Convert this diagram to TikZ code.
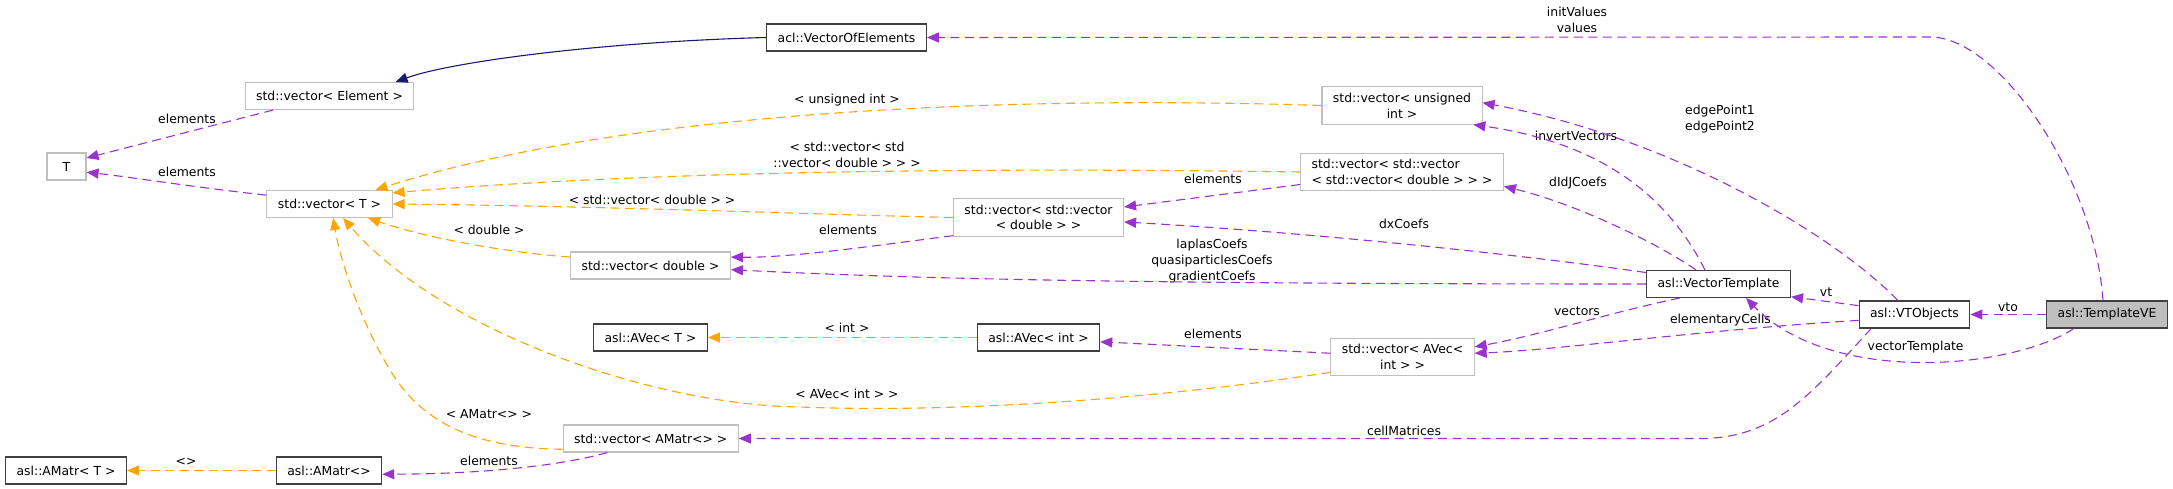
\documentclass[tikz,border=0pt]{standalone}
\usepackage{fontspec}
\setmainfont{DejaVu Sans}
\usetikzlibrary{arrows.meta}
\definecolor{memcol}{HTML}{9A32CD}
\definecolor{tplcol}{HTML}{FFA500}
\definecolor{inhcol}{HTML}{191970}
\definecolor{extcol}{HTML}{BFBFBF}
\definecolor{clscol}{HTML}{404040}
\begin{document}
\begin{tikzpicture}[x=1pt, y=-1pt, >={Triangle[length=12pt,width=10pt]},
  font=\fontsize{12.4}{15.7}\selectfont, line width=1.1pt,
  box/.style={draw, fill=white, align=center, inner xsep=11pt, inner ysep=6pt, minimum height=27pt},
  cls/.style={box, draw=clscol},
  ext/.style={box, draw=extcol},
  mem/.style={->, draw=memcol, dash pattern=on 9pt off 5.5pt},
  tpl/.style={->, draw=tplcol, dash pattern=on 9pt off 5.5pt},
  inh/.style={->, draw=inhcol},
  lbl/.style={align=center, inner sep=0pt}]
\useasboundingbox (0,0) rectangle (2173,489);
\node[cls] (voe) at (846.5,37.5) {acl::VectorOfElements};
\node[ext] (vecElem) at (329.5,96) {std::vector< Element >};
\node[ext, minimum width=39pt] (nT) at (66.5,166.5) {T};
\node[ext] (vecT) at (329.5,204) {std::vector< T >};
\node[ext] (vecUInt) at (1402,105.5) {std::vector< unsigned\\int >};
\node[ext, align=left] (vecVecVecD) at (1402,172) {std::vector< std::vector\\< std::vector< double > > >};
\node[ext] (vecVecD) at (1038.5,217.5) {std::vector< std::vector\\< double > >};
\node[ext] (vecDouble) at (650.5,265.5) {std::vector< double >};
\node[cls] (avecT) at (650.5,337.5) {asl::AVec< T >};
\node[cls] (avecInt) at (1038.5,337.5) {asl::AVec< int >};
\node[ext] (vecAVec) at (1402.5,357) {std::vector< AVec<\\int > >};
\node[ext] (vecAMatr) at (650.7,438.5) {std::vector< AMatr<> >};
\node[cls] (amatrT) at (66,470.5) {asl::AMatr< T >};
\node[cls] (amatr) at (329,470.5) {asl::AMatr<>};
\node[cls] (vtempl) at (1718.5,284) {asl::VectorTemplate};
\node[cls] (vtobj) at (1914.5,314.5) {asl::VTObjects};
\node[cls, fill=extcol] (tve) at (2107,314.5) {asl::TemplateVE};

\node[lbl] (lElemA) at (187,119) {elements};
\node[lbl] (lElemB) at (187,172) {elements};
\node[lbl] (lUInt) at (847,100) {< unsigned int >};
\node[lbl] (lVVD) at (847,155) {< std::vector< std\\::vector< double > > >};
\node[lbl] (lVD) at (652,200) {< std::vector< double > >};
\node[lbl] (lDouble) at (489,230) {< double >};
\node[lbl] (lAVecInt) at (847,394) {< AVec< int > >};
\node[lbl] (lAMatr) at (489,414) {< AMatr<> >};
\node[lbl] (lInt) at (847,328) {< int >};
\node[lbl] (lAng) at (186,462) {<>};
\node[lbl] (lElemC) at (489,461) {elements};
\node[lbl] (lElemD) at (848,230) {elements};
\node[lbl] (lElemE) at (1213,179) {elements};
\node[lbl] (lElemF) at (1213,334) {elements};
\node[lbl] (lInit) at (1577,20) {initValues\\values};
\node[lbl] (lInvert) at (1576,136) {invertVectors};
\node[lbl] (lEdge) at (1720,119) {edgePoint1\\edgePoint2};
\node[lbl] (lDIdJ) at (1578,183) {dIdJCoefs};
\node[lbl] (lDx) at (1404,224) {dxCoefs};
\node[lbl] (lCoefs) at (1212,261) {laplasCoefs\\quasiparticlesCoefs\\gradientCoefs};
\node[lbl] (lVectors) at (1577,311) {vectors};
\node[lbl] (lCells) at (1720.5,320) {elementaryCells};
\node[lbl] (lVt) at (1826,292) {vt};
\node[lbl] (lVto) at (2008,307) {vto};
\node[lbl] (lVTempl) at (1915.6,347) {vectorTemplate};
\node[lbl] (lCellM) at (1404,431) {cellMatrices};

\draw[inh] (voe.west) .. controls (600,42) and (450,62) .. (vecElem.12);
\draw[mem] (vecElem.194) -- (nT.23);
\draw[mem] (vecT.172) .. controls (200,188) and (130,177) .. (nT.-16);
\draw[tpl] (vecUInt.west) .. controls (1000,95) and (620,112) .. (vecT.17);
\draw[tpl] (vecVecVecD.west) .. controls (900,166) and (600,175) .. (vecT.10);
\draw[tpl] (vecVecD.west) .. controls (800,214) and (600,206) .. (vecT.east);
\draw[tpl] (vecDouble.174) .. controls (500,252) and (420,236) .. (vecT.-20);
\draw[tpl] (vecAVec.192) .. controls (1150,400) and (950,413) .. (800,407) .. controls (650,405) and (440,330) .. (vecT.-46);
\draw[tpl] (vecAMatr.187) .. controls (470,448) and (420,420) .. (390,370) .. controls (360,320) and (340,260) .. (vecT.-75);
\draw[tpl] (avecInt) -- (avecT);
\draw[tpl] (amatr) -- (amatrT);
\draw[mem] (vecAMatr.198) .. controls (560,466) and (480,474) .. (amatr.-4);
\draw[mem] (vecAVec.177) -- (avecInt.-4);
\draw[mem] (vecVecD.192) .. controls (880,245) and (790,258) .. (vecDouble.6);
\draw[mem] (vecVecVecD.187) -- (vecVecD.7);
\draw[mem] (vtempl.134) .. controls (1660,180) and (1580,140) .. (vecUInt.-15);
\draw[mem] (vtempl.148) .. controls (1660,245) and (1580,205) .. (vecVecVecD.-8);
\draw[mem] (vtempl.171) .. controls (1500,252) and (1300,232) .. (vecVecD.-3);
\draw[mem] (vtempl.west) .. controls (1100,284) and (900,278) .. (vecDouble.-3);
\draw[mem] (vtempl.200) .. controls (1620,310) and (1540,335) .. (vecAVec.8);
\draw[mem] (vtobj.186) .. controls (1700,330) and (1560,350) .. (vecAVec.3);
\draw[mem] (vtobj.171) -- (vtempl.-10);
\draw[mem] (vtobj.140) .. controls (1840,240) and (1680,140) .. (vecUInt.2);
\draw[mem] (vtobj.198) .. controls (1810,395) and (1775,438.5) .. (1700,438.5) -- (vecAMatr.east);
\draw[mem] (tve) -- (vtobj);
\draw[mem] (tve.203) .. controls (2010,370) and (1830,385) .. (vtempl.-27);
\draw[mem] (tve.106) .. controls (2095,180) and (2000,37) .. (1930,37) -- (voe.east);
\end{tikzpicture}
\end{document}
